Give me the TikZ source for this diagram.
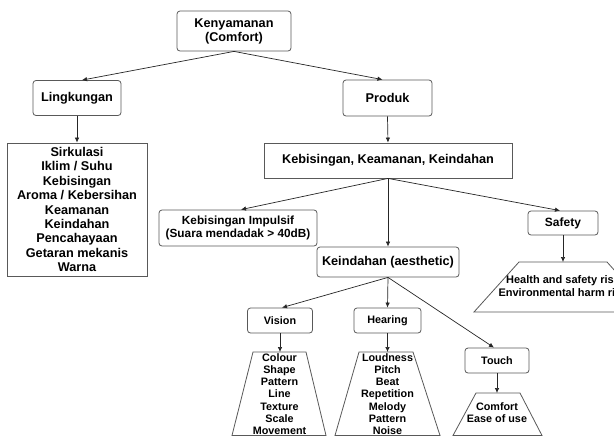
\documentclass[tikz,border=0pt]{standalone}
\usepackage{fontspec}
\setmainfont{Liberation Sans}
\usetikzlibrary{arrows.meta}
\begin{document}
\begin{tikzpicture}[x=1pt,y=-1pt,
  box/.style={draw=black!65, line width=0.8pt, rounded corners=3pt, fill=white, inner sep=0pt, align=center, font=\bfseries\fontsize{12.7}{14}\selectfont},
  sqbox/.style={box, rounded corners=0pt},
  smallbox/.style={box, font=\bfseries\fontsize{10.8}{12}\selectfont},
  trap/.style={draw=black!65, line width=0.8pt, fill=white},
  traptext/.style={align=center, inner sep=0pt, font=\bfseries\fontsize{10.8}{12.2}\selectfont},
  arr/.style={draw=black!85, line width=0.7pt, -{Latex[length=5pt,width=4.5pt]}}
]
\useasboundingbox (0,0) rectangle (614,437);
\clip (0,0) rectangle (614,437);
\fill[white] (0,0) rectangle (614,437);

% boxes
\node[box, minimum width=114pt, minimum height=40pt] (komf) at (234,31) {Kenyamanan\\(Comfort)};
\node[box, minimum width=88pt, minimum height=35pt] (ling) at (77,98) {Lingkungan};
\node[box, minimum width=89pt, minimum height=36pt] (prod) at (387.5,98) {Produk};
\node[sqbox, minimum width=140pt, minimum height=133pt, font=\bfseries\fontsize{12.7}{14.4}\selectfont] (list) at (77,209.5)
  {Sirkulasi\\Iklim / Suhu\\Kebisingan\\Aroma / Kebersihan\\Keamanan\\Keindahan\\Pencahayaan\\Getaran mekanis\\Warna};
\node[sqbox, minimum width=248pt, minimum height=35pt] (kkk) at (388,160.5) {Kebisingan, Keamanan, Keindahan};
\node[box, minimum width=158pt, minimum height=36pt, font=\bfseries\fontsize{11.8}{12.5}\selectfont] (imp) at (238,228)
  {Kebisingan Impulsif\\(Suara mendadak > 40dB)};
\node[box, minimum width=70pt, minimum height=24pt, font=\bfseries\fontsize{12}{13}\selectfont] (safe) at (563,223) {Safety};
\node[box, minimum width=142pt, minimum height=30pt] (aes) at (388,262) {Keindahan (aesthetic)};
\node[smallbox, minimum width=65pt, minimum height=25pt] (vis) at (280,320.5) {Vision};
\node[smallbox, minimum width=67pt, minimum height=25pt] (hear) at (387.5,320.5) {Hearing};
\node[smallbox, minimum width=64pt, minimum height=25pt] (touch) at (497,360.5) {Touch};

% trapezoids
\draw[trap] (253,352) -- (306,352) -- (326,435.5) -- (232,435.5) -- cycle;
\coordinate (vtop) at (280,352);
\node[traptext] (vt) at (279.5,394) {Colour\\Shape\\Pattern\\Line\\Texture\\Scale\\Movement};

\draw[trap] (359,352) -- (413,352) -- (440,435.5) -- (335,435.5) -- cycle;
\coordinate (htop) at (387.5,352);
\node[traptext] (ht) at (387.5,394) {Loudness\\Pitch\\Beat\\Repetition\\Melody\\Pattern\\Noise};

\draw[trap] (476,393) -- (520,393) -- (542,435.5) -- (453,435.5) -- cycle;
\coordinate (ctop) at (497,393);
\node[traptext] (ct) at (497,413) {Comfort\\Ease of use};

\draw[trap] (519,262) -- (607,262) -- (652,312) -- (474,312) -- cycle;
\coordinate (stop) at (563,262);
\node[traptext, font=\bfseries\fontsize{11}{13}\selectfont] (st) at (563,286.5) {Health and safety risk\\Environmental harm risk};

% connectors
\draw[arr] (komf.south) -- ([xshift=5pt]ling.north);
\draw[arr] (komf.south) -- ([xshift=-5pt]prod.north);
\draw[arr] (ling.south) -- (list.north);
\draw[arr] (prod.south) -- (kkk.north);
\draw[arr] (kkk.south) -- ([xshift=3pt]imp.north);
\draw[arr] (kkk.south) -- (aes.north);
\draw[arr] (kkk.south) -- ([xshift=-3pt]safe.north);
\draw[arr] (aes.south) -- ([xshift=2pt]vis.north);
\draw[arr] (aes.south) -- (hear.north);
\draw[arr] (aes.south) -- ([xshift=-3pt]touch.north);
\draw[arr] (vis.south) -- (vtop);
\draw[arr] (hear.south) -- (htop);
\draw[arr] (touch.south) -- (ctop);
\draw[arr] (safe.south) -- (stop);
\end{tikzpicture}
\end{document}
